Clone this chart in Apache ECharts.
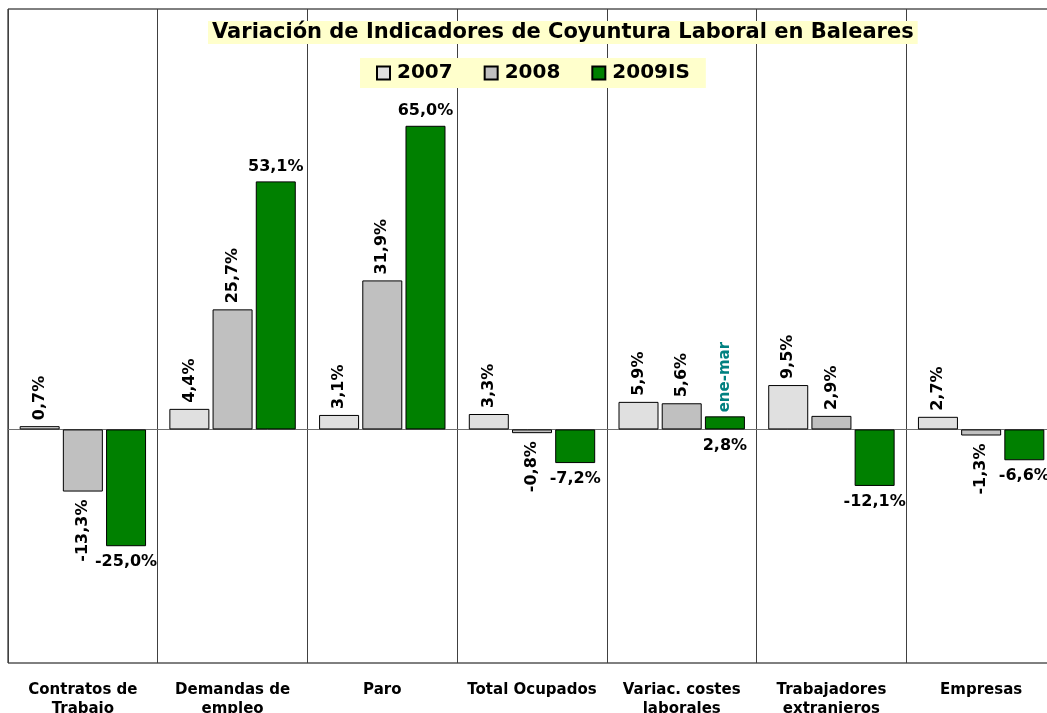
<!DOCTYPE html>
<html>
<head>
<meta charset="utf-8">
<script src="https://cdn.jsdelivr.net/npm/echarts@6/dist/echarts.min.js"></script>
<style>
html, body { margin: 0; padding: 0; background: #fff; }
#main { width: 1047px; height: 713px; }
</style>
</head>
<body>
<div id="main"></div>
<script>
// categorías del eje X
var categorias = ['Contratos de\nTrabajo', 'Demandas de\nempleo', 'Paro', 'Total Ocupados',
	'Variac. costes\nlaborales', 'Trabajadores\nextranjeros', 'Empresas'];
// valores (%) por año
var v2007 = [0.7, 4.4, 3.1, 3.3, 5.9, 9.5, 2.7];
var v2008 = [-13.3, 25.7, 31.9, -0.8, 5.6, 2.9, -1.3];
var v2009 = [-25.0, 53.1, 65.0, -7.2, 2.8, -12.1, -6.6];
var nombres = ['2007', '2008', '2009IS'];
var colores = ['#e0e0e0', '#c0c0c0', '#008000'];

var fuente = 'DejaVu Sans';

// formato 12,3%
function fmt(v) {
	return v.toFixed(1).replace('.', ',') + '%';
}

// etiquetas giradas (2007 y 2008)
function datosGirados(arr) {
	return arr.map(function(v) {
		var neg = v < 0;
		return {
			value : v,
			label : {
				position : neg ? 'bottom' : 'top',
				align : neg ? 'right' : 'left',
				distance : neg ? 8 : 6
			}
		};
	});
}

// etiquetas horizontales (2009IS)
function datosHorizontales(arr) {
	return arr.map(function(v, i) {
		var neg = v < 0 || i === 4; // 2,8% va debajo del cero
		return { value : v, label : { position : neg ? 'bottom' : 'top', distance : neg ? 8 : 7 } };
	});
}

var labelGirado = {
	show : true,
	rotate : 90,
	verticalAlign : 'middle',
	color : '#000',
	fontFamily : fuente,
	fontWeight : 'bold',
	fontSize : 16,
	formatter : function(p) { return fmt(p.value); }
};

var options = {
	animation : false,
	title : {
		text : 'Variación de Indicadores de Coyuntura Laboral en Baleares',
		left : 208,
		top : 21,
		padding : [1, 4],
		backgroundColor : '#ffffcc',
		textStyle : {
			fontFamily : fuente,
			fontWeight : 'bold',
			fontSize : 21,
			color : '#000'
		}
	},
	legend : {
		left : 360,
		top : 58,
		padding : [5, 16],
		itemGap : 31,
		itemWidth : 13,
		itemHeight : 13,
		icon : 'rect',
		backgroundColor : '#ffffcc',
		textStyle : {
			fontFamily : fuente,
			fontWeight : 'bold',
			fontSize : 20,
			color : '#000',
			padding : [0, 0, 0, 2]
		},
		data : nombres
	},
	grid : {
		left : 8,
		top : 9,
		width : 1048,
		height : 654,
		show : true,
		borderColor : '#000',
		borderWidth : 1,
		outerBoundsMode : 'none',
		containLabel : false
	},
	xAxis : {
		type : 'category',
		data : categorias,
		axisLine : { onZero : true, lineStyle : { color : '#707070', width : 1 } },
		axisTick : { show : false },
		splitLine : { show : true, interval : 0, lineStyle : { color : '#404040', width : 1 } },
		axisLabel : {
			interval : 0,
			margin : 18,
			lineHeight : 19,
			fontFamily : fuente,
			fontWeight : 'bold',
			fontSize : 15,
			color : '#000'
		}
	},
	yAxis : {
		type : 'value',
		min : -50,
		max : 90,
		axisLine : { show : false },
		axisTick : { show : false },
		axisLabel : { show : false },
		splitLine : { show : false }
	},
	series : [ {
		name : nombres[0],
		type : 'bar',
		barWidth : 40,
		barGap : '8%',
		itemStyle : { color : colores[0], borderColor : '#000', borderWidth : 1 },
		label : labelGirado,
		data : datosGirados(v2007)
	}, {
		name : nombres[1],
		type : 'bar',
		barWidth : 40,
		barGap : '8%',
		itemStyle : { color : colores[1], borderColor : '#000', borderWidth : 1 },
		label : labelGirado,
		data : datosGirados(v2008)
	}, {
		name : nombres[2],
		type : 'bar',
		barWidth : 40,
		barGap : '8%',
		itemStyle : { color : colores[2], borderColor : '#000', borderWidth : 1 },
		label : {
			show : true,
			color : '#000',
			fontFamily : fuente,
			fontWeight : 'bold',
			fontSize : 16,
			formatter : function(p) { return fmt(p.value); }
		},
		data : datosHorizontales(v2009),
		// nota "ene-mar" sobre la barra de costes laborales
		markPoint : {
			symbol : 'rect',
			symbolSize : 0,
			silent : true,
			label : {
				show : true,
				position : 'top',
				rotate : 90,
				align : 'left',
				verticalAlign : 'middle',
				distance : 4,
				color : '#008080',
				fontFamily : fuente,
				fontWeight : 'bold',
				fontSize : 15,
				formatter : 'ene-mar'
			},
			data : [ { coord : [categorias[4], v2009[4]] } ]
		}
	} ]
};

var chart = echarts.init(document.getElementById('main'));
chart.setOption(options);
</script>
</body>
</html>
